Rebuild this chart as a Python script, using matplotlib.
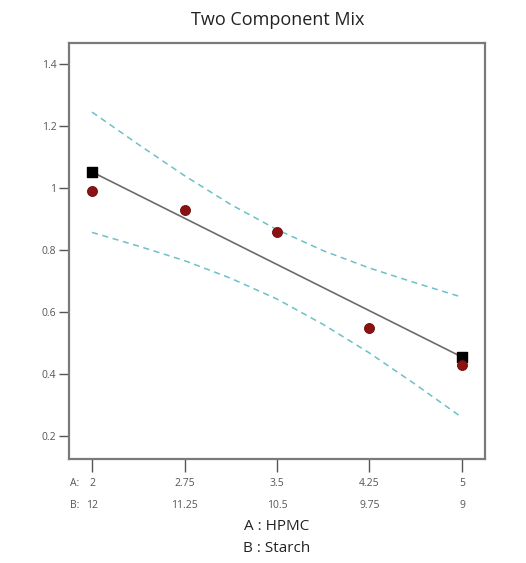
import matplotlib
matplotlib.use("Agg")
import matplotlib.pyplot as plt
import matplotlib.transforms as mtransforms

plt.rcParams['font.family'] = ['Open Sans', 'DejaVu Sans']

# design points (A: HPMC, B: Starch)
a_ticks = [2, 2.75, 3.5, 4.25, 5]
a_labels = ["2", "2.75", "3.5", "4.25", "5"]
b_labels = ["12", "11.25", "10.5", "9.75", "9"]
y_ticks = [0.2, 0.4, 0.6, 0.8, 1.0, 1.2, 1.4]
y_labels = ["0.2", "0.4", "0.6", "0.8", "1", "1.2", "1.4"]

# observed runs
obs_x = [2, 2.75, 3.5, 4.25, 5]
obs_y = [0.99, 0.929, 0.858, 0.548, 0.429]

# fitted line ends (model predictions at pure blends)
fit_x = [2, 5]
fit_y = [1.052, 0.455]

# confidence band
band_x = [2, 2.375, 2.75, 3.125, 3.5, 3.875, 4.25, 4.625, 5]
band_hi = [1.245, 1.141, 1.040, 0.947, 0.866, 0.798, 0.742, 0.694, 0.648]
band_lo = [0.857, 0.813, 0.766, 0.709, 0.642, 0.560, 0.468, 0.366, 0.260]

W, H = 526, 563
fig = plt.figure(figsize=(W / 100, H / 100), dpi=100)
ax = fig.add_axes([69 / W, 1 - 459 / H, 416 / W, 416 / H])

grey = "#555555"
ax.plot(fit_x, fit_y, color="#6b6b6b", lw=1.2, zorder=2)
ax.plot(band_x, band_hi, color="#6cc0c8", lw=1.1, ls=(0, (4, 3)), zorder=1)
ax.plot(band_x, band_lo, color="#6cc0c8", lw=1.1, ls=(0, (4, 3)), zorder=1)
ax.scatter(fit_x, fit_y, marker="s", s=42, color="black", zorder=3)
ax.scatter(obs_x, obs_y, marker="o", s=52, color="#8b1212",
           edgecolor="#6a0c0c", linewidth=0.6, zorder=4)

ax.set_xlim(1.813, 5.187)
ax.set_ylim(0.126, 1.468)
ax.set_yticks(y_ticks)
ax.set_yticklabels(y_labels, fontsize=7.5, color=grey)
ax.set_xticks(a_ticks)
ax.set_xticklabels([])
ax.tick_params(axis="y", direction="out", length=7, width=1, color=grey, pad=2)
ax.tick_params(axis="x", direction="out", length=9, width=1, color=grey)
for sp in ax.spines.values():
    sp.set_color("#7a7a7a")
    sp.set_linewidth(1.6)

trans = mtransforms.blended_transform_factory(ax.transData, fig.transFigure)
for x, la, lb in zip(a_ticks, a_labels, b_labels):
    ax.text(x, 1 - 484 / H, la, transform=trans, ha="center", va="center",
            fontsize=7.5, color=grey)
    ax.text(x, 1 - 505 / H, lb, transform=trans, ha="center", va="center",
            fontsize=7.5, color=grey)
fig.text(75 / W, 1 - 484 / H, "A:", ha="center", va="center", fontsize=7.5, color=grey)
fig.text(75 / W, 1 - 505 / H, "B:", ha="center", va="center", fontsize=7.5, color=grey)

fig.text(277 / W, 1 - 527 / H, "A : HPMC", ha="center", va="center", fontsize=11, color="#222222")
fig.text(277 / W, 1 - 548 / H, "B : Starch", ha="center", va="center", fontsize=11, color="#222222")
fig.text(278 / W, 1 - 20 / H, "Two Component Mix", ha="center", va="center", fontsize=13, color="#222222")

fig.savefig("out.png", dpi=100)
